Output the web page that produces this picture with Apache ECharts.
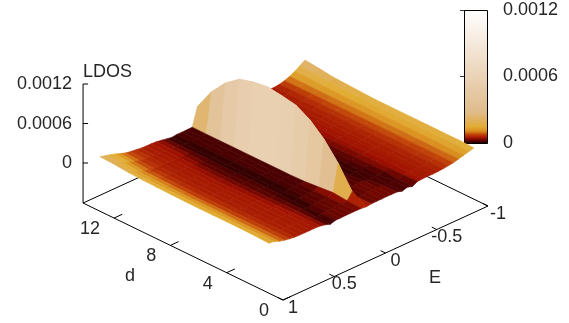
<!DOCTYPE html>
<html>
<head>
<meta charset="utf-8">
<style>html,body{margin:0;padding:0;background:#fff}#main{width:569px;height:323px}</style>
<script src="https://cdn.jsdelivr.net/npm/echarts@6/dist/echarts.min.js"></script>
</head>
<body>
<div id="main"></div>
<script>
// axes of the surface
const energies = [-1,-0.95,-0.9,-0.85,-0.8,-0.75,-0.7,-0.65,-0.6,-0.55,-0.5,-0.45,-0.4,-0.35,-0.3,-0.25,-0.2,-0.15,-0.1,-0.05,
  0,0.05,0.1,0.15,0.2,0.25,0.3,0.35,0.4,0.45,0.5,0.55,0.6,0.65,0.7,0.75,0.8,0.85,0.9,0.95,1];
const distances = [1,2,3,4,5,6,7,8,9,10,11,12,13];
const dTicks = [0,4,8,12];
const eTicks = [-1,-0.5,0,0.5,1];
const zTicks = [0,0.0006,0.0012];
const LDOS_UNIT = 1e-5;

// LDOS, one row per d, one column per energy
const ldos = [
  [17,15,13,11,9, 8,7,6.3,6,6, 6,5.5,1.4,3.8,1.4, 3.8,3.8,4,3.8,3.8, 3.6,2.5,3.6,3.8,3.8, 3.8,3.6,3.6,1.2,3.8, 5.5,6,6,6,6.2, 6.5,7.5,9,11,14, 15],
  [18,15.5,13,11,9, 8,7,6.3,6,6, 5.5,5,1.2,3.6,1.2, 3.6,3.6,3.8,3.6,3.4, 3.2,15,5,3.6,3.6, 3.4,3.4,3.2,1.1,3.8, 5.5,6,6,6,6.2, 6.5,7.5,9,11,14, 16],
  [18,15.5,13.5,11,9, 8,7,6.3,6,6, 5.5,5,3.6,1.2,3.4, 1.2,3.2,3.4,3.2,2.8, 2.7,48,7,3.6,3.2, 3.2,3,1,3,3.8, 5.5,6,6,6,6.2, 6.5,7.5,9,11,14, 16.5],
  [18,16,13.5,11,9, 8,7,6.3,6,6, 5.5,5,3.6,3,1.2, 2.8,1.1,2.6,2.4,2.4, 2.4,74,5,2.8,2.6, 2.6,2.4,1,2.6,3.6, 5,6,6,6,6.2, 6.5,7.5,9,11,14, 16.5],
  [18,16,14,11.5,9.5, 8,7,6.3,6,6, 5.5,4.8,3.4,2.8,2.6, 1.2,2.4,2.4,2.4,2.4, 2.4,93,3,2.4,2.4, 2.4,1,2.4,2.6,3.4, 4.8,5.8,6,6,6.2, 6.5,7.5,9,11.5,14, 16.5],
  [18,16,14,11.5,9.5, 8,7,6.3,6,6, 5.5,4.8,3.4,2.8,2.6, 1.2,2.4,2.4,2.4,2.4, 2.4,105,2.4,2.4,2.4, 2.4,1,2.4,2.6,3.2, 4.6,5.6,6,6,6.2, 6.5,7.5,9,11.5,14, 16.5],
  [18,16,14,11.5,9.5, 8,7,6.3,6,6, 5.5,4.8,3.6,3,2.6, 2.4,1.2,2.4,2.4,2.4, 2.4,109,2.4,2.4,2.4, 2.4,1,2.4,2.6,3.2, 4.4,5.4,6,6,6.2, 6.5,7.5,9,11.5,14, 16.5],
  [18,16,14,11.5,9.5, 8,7,6.3,6.2,6, 5.5,5,3.8,3,2.6, 2.4,1.2,2.4,2.4,2.4, 2.4,112,2.4,2.4,2.4, 2.4,1,2.3,2.6,3.2, 4.4,5.4,6,6,6.2, 6.5,7.5,9.2,11.5,14, 17],
  [19,16.5,14,11.5,9.5, 8,7,6.3,6.2,6, 5.5,5,3.8,3,2.6, 2.4,1.2,2.4,2.4,2.4, 2.4,109,2.4,2.4,2.4, 2.4,1,2.3,2.6,3.3, 4.6,5.5,6,6,6.2, 6.8,7.8,9.5,12,14.5, 17.5],
  [20,17,14.5,11.5,9.2, 7.8,6.8,6.2,6,5.8, 5.5,5,3.8,3,2.6, 2.4,1.3,2.4,2.4,2.4, 2.4,103,2.4,2.4,2.4, 2.4,1,2.4,2.8,3.6, 5,5.8,6,6,6.5, 7,8,10,12.5,15, 18],
  [21,18,15,11.5,9, 7.5,6.5,6.2,6,5.8, 5.5,5,4,3.2,2.8, 2.4,1.3,2.4,2.4,2.4, 2.4,87,2.4,2.4,2.4, 2.4,1.1,2.6,3.6,5, 5.5,6,6,6.2,6.8, 7.5,8.8,10.5,13,16, 19],
  [24,20,16,12,9, 7.5,6.3,6,5.8,5.8, 5.5,5,4,3.4,2.8, 2.4,1.5,2.4,2.4,2.4, 2.4,63,2.4,2.4,2.4, 2.4,1.2,2.6,3.8,5.2, 5.8,6,6.2,6.8,7.5, 8.5,10.5,13,16,18.5, 21],
  [26,21,16,12,9, 7,6,6,5.8,5.5, 5.5,5,4.2,3.6,3, 2.6,1.8,2.6,2.4,2.4, 2.4,30,2.6,2.4,2.2, 2.4,1.4,2.7,4.2,5.5, 6,6,6.5,7.5,8.5, 10,12.5,15.5,18,20, 22]
];

// colour palette (fraction of the z range -> colour)
const paletteStops = [0,0.02,0.045,0.07,0.095,0.13,0.16,0.24,0.45,0.75,1];
const paletteColors = ['#000000','#4a0000','#a01000','#c04008','#d88a1c','#e2ae34','#e0ae50','#e0bc8c','#e8ceae','#f5e9dc','#ffffff'];

const zMax = 0.0012;
const dMax = 14.2;
const floorZ = -0.000608;
const labelFont = '18px "Liberation Sans", Arial, sans-serif';
const textColor = '#262626';

// gnuplot style view, returns pixel position on the page
function project(e, d, z) {
  return [
    283 - 14.08 * d + 102.5 * (1 - e),
    260 - 6.83 * d - 47 * (1 - e) - z * 65833
  ];
}

function colorOf(v) {
  const f = Math.min(1, Math.max(0, v / zMax));
  let i = 0;
  while (i < paletteStops.length - 2 && f > paletteStops[i + 1]) i++;
  const t = (f - paletteStops[i]) / (paletteStops[i + 1] - paletteStops[i]);
  return echarts.color.lerp(t, [paletteColors[i], paletteColors[i + 1]]);
}

// quads far to near so the near ones paint over
const quads = [];
for (let i = distances.length - 2; i >= 0; i--) {
  for (let j = 0; j < energies.length - 1; j++) quads.push([i, j]);
}

// box edges and ticks
const segments = [];
segments.push([project(1, 0, floorZ), project(1, dMax, floorZ)]);
segments.push([project(1, 0, floorZ), project(-1, 0, floorZ)]);
segments.push([project(1, dMax, floorZ), project(-1, dMax, floorZ)]);
segments.push([project(-1, 0, floorZ), project(-1, dMax, floorZ)]);
segments.push([project(1, dMax, floorZ), project(1, dMax, zMax)]);
dTicks.forEach(function (d) {
  segments.push([project(1, d, floorZ), project(0.92, d, floorZ)]);
});
eTicks.forEach(function (e) {
  segments.push([project(e, 0, floorZ), project(e, 0.35, floorZ)]);
});
zTicks.forEach(function (z) {
  const p = project(1, dMax, z);
  segments.push([p, [p[0] + 5, p[1]]]);
});

// tick labels and axis names
const labels = [];
zTicks.forEach(function (z) {
  const p = project(1, dMax, z);
  labels.push({ text: String(z), x: p[0] - 11, y: p[1] + 0.5, align: 'right' });
});
dTicks.forEach(function (d) {
  const p = project(1, d, floorZ);
  labels.push({ text: String(d), x: p[0] - 14, y: p[1] + 11, align: 'right' });
});
eTicks.forEach(function (e) {
  const p = project(e, 0, floorZ);
  labels.push({ text: String(e), x: p[0] + 10, y: p[1] + 8, align: 'center' });
});
labels.push({ text: 'LDOS', x: 83, y: 72, align: 'left' });
labels.push({ text: 'd', x: 130, y: 276, align: 'center' });
labels.push({ text: 'E', x: 435, y: 278, align: 'center' });

function line(api, seg) {
  const a = api.coord(seg[0]);
  const b = api.coord(seg[1]);
  return { type: 'line', shape: { x1: a[0], y1: a[1], x2: b[0], y2: b[1] }, style: { stroke: '#000', lineWidth: 1 } };
}

const myChart = echarts.init(document.getElementById('main'), null, { renderer: 'canvas' });

const options = {
  animation: false,
  backgroundColor: '#fff',
  grid: [
    { left: 0, top: 0, width: 569, height: 323 },
    { left: 464, top: 10, width: 23, height: 133 }
  ],
  xAxis: [
    { type: 'value', gridIndex: 0, min: 0, max: 569, show: false },
    { type: 'value', gridIndex: 1, min: 0, max: 1, show: false }
  ],
  yAxis: [
    { type: 'value', gridIndex: 0, min: 0, max: 323, inverse: true, show: false },
    {
      type: 'value', gridIndex: 1, min: 0, max: zMax, interval: 0.0006, position: 'right',
      axisLine: { show: false },
      splitLine: { show: false },
      axisTick: { show: true, inside: true, length: 4, lineStyle: { color: '#333' } },
      axisLabel: {
        margin: 16, color: textColor, fontSize: 18, fontFamily: 'Liberation Sans',
        formatter: function (v) { return String(+v.toFixed(4)); }
      }
    },
    {
      type: 'value', gridIndex: 1, min: 0, max: zMax, interval: 0.0006, position: 'left',
      axisLine: { show: false },
      splitLine: { show: false },
      axisTick: { show: true, inside: true, length: 4, lineStyle: { color: '#333' } },
      axisLabel: { show: false }
    }
  ],
  series: [
    {
      // floor box, ticks
      type: 'custom',
      xAxisIndex: 0,
      yAxisIndex: 0,
      z: 1,
      silent: true,
      clip: false,
      data: segments.map(function (s, i) { return [i]; }),
      renderItem: function (params, api) {
        return line(api, segments[api.value(0)]);
      }
    },
    {
      // surface
      type: 'custom',
      xAxisIndex: 0,
      yAxisIndex: 0,
      z: 2,
      silent: true,
      clip: false,
      progressive: 0,
      data: quads,
      renderItem: function (params, api) {
        const i = api.value(0);
        const j = api.value(1);
        const corners = [[i, j], [i + 1, j], [i + 1, j + 1], [i, j + 1]];
        let sum = 0;
        const points = corners.map(function (c) {
          const v = ldos[c[0]][c[1]] * LDOS_UNIT;
          sum += v;
          return api.coord(project(energies[c[1]], distances[c[0]], v));
        });
        const fill = colorOf(sum / 4);
        return { type: 'polygon', shape: { points: points }, style: { fill: fill, stroke: fill, lineWidth: 0.6 } };
      }
    },
    {
      // text on top
      type: 'custom',
      xAxisIndex: 0,
      yAxisIndex: 0,
      z: 3,
      silent: true,
      clip: false,
      data: labels.map(function (l, i) { return [i]; }),
      renderItem: function (params, api) {
        const l = labels[api.value(0)];
        const p = api.coord([l.x, l.y]);
        return {
          type: 'text',
          style: { text: l.text, x: p[0], y: p[1], font: labelFont, fill: textColor, align: l.align, verticalAlign: 'middle' }
        };
      }
    },
    {
      // colour box
      type: 'custom',
      xAxisIndex: 1,
      yAxisIndex: 1,
      z: 1,
      silent: true,
      clip: false,
      data: [[0, zMax]],
      renderItem: function (params, api) {
        const a = api.coord([0, api.value(1)]);
        const b = api.coord([1, api.value(0)]);
        return {
          type: 'rect',
          shape: { x: a[0] + 0.5, y: a[1] + 0.5, width: b[0] - a[0], height: b[1] - a[1] },
          style: {
            stroke: '#000',
            lineWidth: 1,
            fill: new echarts.graphic.LinearGradient(0, 1, 0, 0, paletteStops.map(function (s, i) {
              return { offset: s, color: paletteColors[i] };
            }))
          }
        };
      }
    }
  ]
};

myChart.setOption(options);
</script>
</body>
</html>
